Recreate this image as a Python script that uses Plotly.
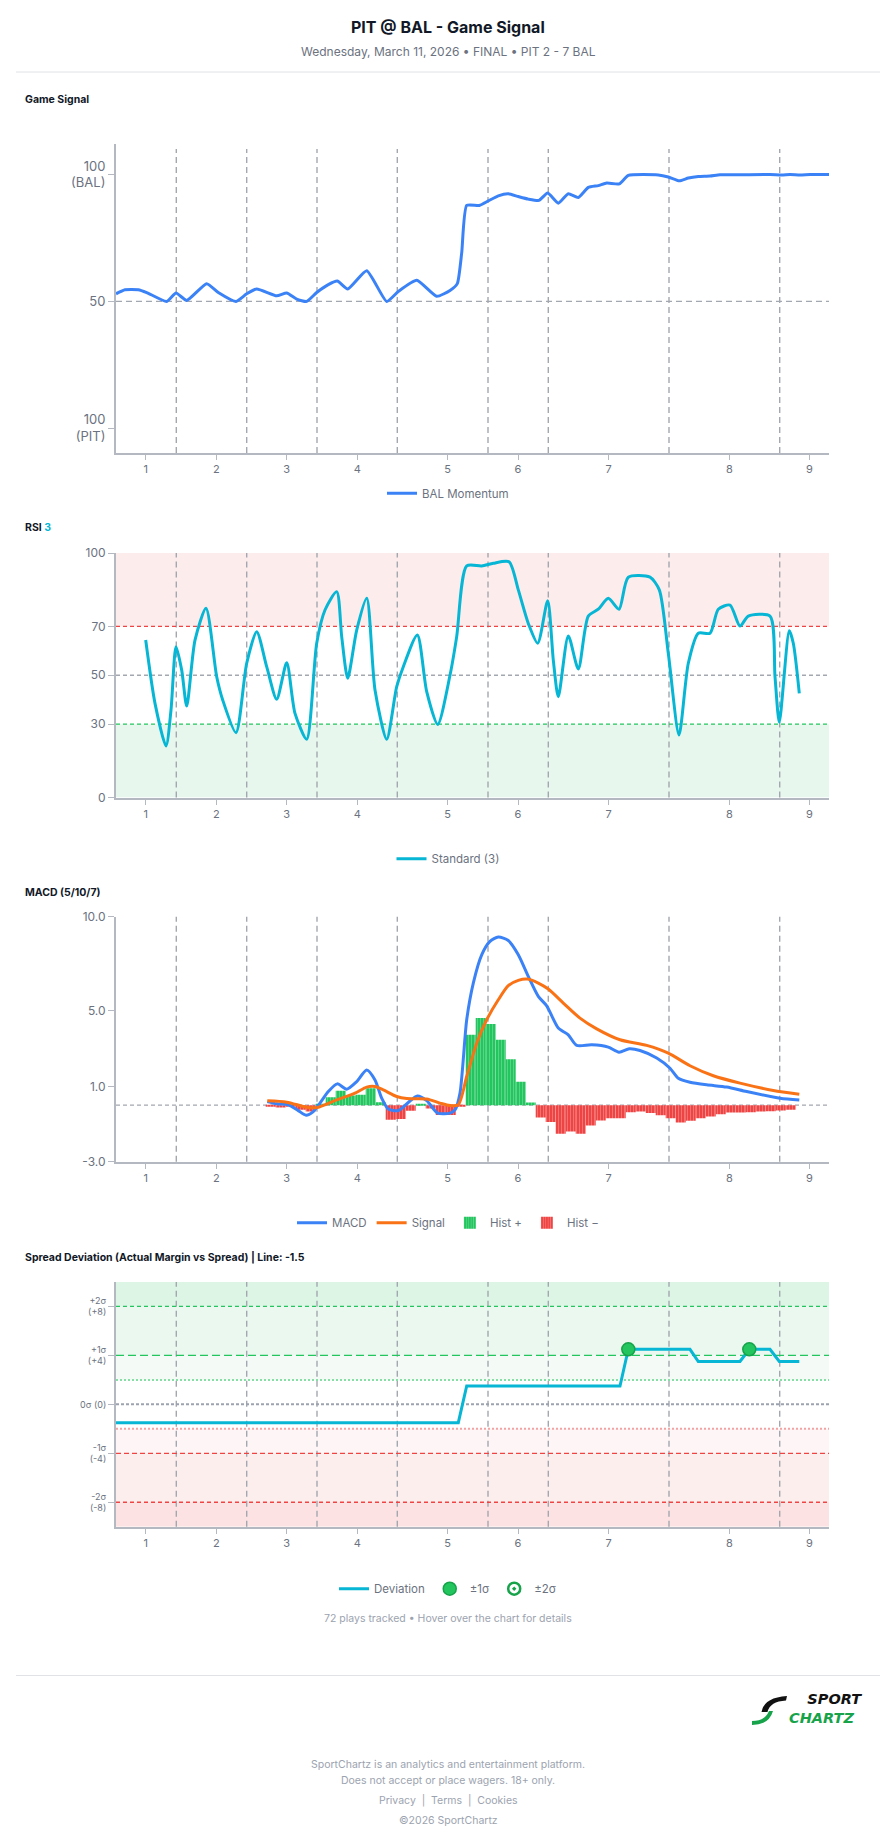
import plotly.graph_objects as go

W, H = 896, 1845
ML, MR = 116, 67
PW = W - ML - MR


def fx(p):
    return (p - ML) / PW


def fy(p):
    return 1 - p / H


FONT = "Inter, 'Noto Sans', sans-serif"
AX = "#b4b8c0"
TICK = "#6b7280"
VLINE = "#a3a7af"

# ---------------- data ----------------
inning_labels = ["1", "2", "3", "4", "5", "6", "7", "8", "9"]
inning_ticks = [2.97, 10.03, 17.07, 24.13, 33.15, 40.2, 49.27, 61.33, 69.33]
inning_breaks = [6.03, 13.07, 20.1, 28.13, 37.2, 43.23, 55.3, 66.37]
x_range = [0, 71.3]

# Game signal (BAL momentum, 100 = BAL, 0 = PIT)
gs_x = [0, 0.9, 2.23, 3.07, 5.07, 6.0, 7.07, 9.07, 10.23, 12.0, 13.07, 14.07, 16.07, 17.07,
        18.07, 19.07, 20.07, 21.23, 22.13, 23.17, 25.07, 27.07, 28.23, 30.07, 32.07, 33.4,
        34.13, 34.57, 35.07, 36.33, 37.23, 38.23, 39.23, 40.23, 41.23, 42.3, 43.17, 44.23,
        45.23, 46.23, 47.23, 48.23, 49.07, 50.33, 51.23, 54.23, 55.23, 56.33, 57.23, 58.23,
        59.4, 60.4, 62.4, 65.4, 66.57, 67.4, 68.4, 69.4, 71.3]
gs_y = [53.0, 54.6, 54.6, 53.5, 50.0, 53.3, 50.4, 57.0, 53.5, 50.0, 53.0, 54.9, 52.2, 53.3,
        50.9, 50.0, 53.5, 56.6, 58.0, 54.9, 62.1, 50.0, 53.9, 58.3, 52.0, 54.3,
        57.0, 69.1, 87.8, 87.8, 89.6, 91.6, 92.4, 91.3, 90.3, 89.8, 92.7, 88.7,
        92.4, 90.9, 94.9, 95.6, 96.6, 96.3, 99.6, 99.8, 99.0, 97.5, 98.6, 99.2,
        99.4, 99.9, 99.9, 100.0, 99.8, 100.0, 99.8, 100.0, 100.0]

# RSI (3)
rsi_x = [2.97, 3.9, 5.0, 5.5, 6.0, 6.57, 7.07, 7.9, 9.0, 10.07, 10.67, 12.0, 13.07, 14.07,
         15.07, 16.07, 17.07, 17.9, 19.07, 20.07, 20.9, 22.07, 22.57, 23.17, 24.07, 25.07,
         25.9, 27.07, 28.07, 28.73, 30.13, 31.07, 32.17, 33.4, 34.07, 35.07, 36.57, 37.73,
         39.3, 40.23, 41.23, 42.17, 43.17, 43.73, 44.23, 45.23, 46.23, 47.23, 48.23, 49.23,
         50.3, 51.23, 53.4, 54.33, 55.23, 56.3, 57.23, 58.23, 59.4, 60.23, 61.4, 62.4,
         63.23, 65.4, 65.9, 66.33, 67.33, 67.73, 68.33]
rsi_y = [64.4, 38.5, 21.1, 35.8, 61.7, 52.1, 37.4, 64.4, 77.4, 49.4, 39.9, 26.5, 54.9, 67.8,
         53.5, 40.2, 55.1, 34.4, 23.8, 63.1, 76.7, 84.2, 65.8, 48.8, 68.5, 81.5,
         44.0, 23.8, 45.3, 53.5, 66.5, 43.3, 29.9, 50.0, 65.8, 94.7, 94.7, 95.8,
         96.4, 84.9, 71.2, 63.1, 80.5, 56.2, 41.2, 66.1, 52.6, 74.2, 77.0, 81.5,
         77.0, 90.1, 90.1, 84.9, 59.0, 25.6, 54.9, 67.2, 67.2, 77.0, 78.7, 70.1,
         74.2, 74.2, 49.4, 30.8, 68.2, 63.1, 42.6]

# MACD (5/10/7)
macd_x = [15.13, 16.07, 17.23, 18.23, 19.0, 19.73, 20.4, 21.23, 22.13, 23.07, 24.07, 25.07,
          25.9, 26.57, 27.23, 28.23, 29.23, 30.13, 31.07, 32.17, 33.4, 33.9, 34.4, 35.07,
          35.73, 36.57, 37.4, 38.23, 39.23, 40.23, 41.23, 42.23, 43.07, 44.23, 45.23, 46.07,
          47.57, 49.23, 50.3, 51.33, 52.4, 54.07, 55.4, 56.23, 57.4, 59.07, 61.07, 63.07,
          66.4, 68.33]
macd_y = [0.19, 0.07, 0.02, -0.29, -0.53, -0.34, 0.11, 0.72, 1.13, 0.85, 1.25, 1.87,
          1.34, 0.37, -0.21, -0.29, 0.14, 0.49, 0.24, -0.42, -0.42, -0.25, 0.64, 4.53,
          6.48, 7.98, 8.69, 8.92, 8.74, 7.98, 6.83, 5.77, 5.27, 4.09, 3.73, 3.17,
          3.20, 3.08, 2.81, 2.99, 2.90, 2.50, 1.96, 1.43, 1.22, 1.08, 0.96, 0.72,
          0.37, 0.28]
signal_x = [15.13, 17.07, 19.07, 20.07, 22.07, 23.9, 25.07, 25.9, 26.73, 28.07, 29.07, 31.07,
            32.4, 33.4, 34.23, 35.07, 36.07, 37.07, 38.23, 39.23, 40.23, 41.13, 42.23, 43.23,
            44.73, 46.4, 48.07, 50.4, 53.07, 55.23, 57.4, 59.73, 62.4, 65.73, 68.33]
signal_y = [0.23, 0.16, -0.11, -0.13, 0.28, 0.64, 0.96, 0.99, 0.81, 0.46, 0.35, 0.33,
            0.11, -0.02, 0.02, 1.52, 3.29, 4.53, 5.59, 6.34, 6.62, 6.69, 6.48, 6.16,
            5.42, 4.62, 4.05, 3.47, 3.17, 2.76, 2.09, 1.56, 1.17, 0.78, 0.58]
hist_start = 15.47
hist_vals = [-0.03, -0.13, -0.08, -0.25, -0.34, 0.03, 0.42, 0.76, 0.51, 0.55, 0.90, 0.16,
             -0.78, -0.74, -0.30, 0.05, -0.18, -0.52, -0.52, -0.05,
             3.73, 4.62, 4.30, 3.47, 2.44, 1.24, 0.14,
             -0.66, -0.90, -1.52, -1.40, -1.52, -1.08, -0.82, -0.69, -0.69, -0.37, -0.33,
             -0.42, -0.53, -0.69, -0.92, -0.83, -0.69, -0.60, -0.48, -0.39, -0.39, -0.37,
             -0.33, -0.32, -0.28, -0.25]

# Spread deviation (actual margin vs spread)
dev_x = [0, 34.23, 35.07, 50.4, 51.23, 57.4, 58.23, 62.4, 63.33, 65.4, 66.33, 68.33]
dev_y = [-1.5, -1.5, 1.5, 1.5, 4.5, 4.5, 3.5, 3.5, 4.5, 4.5, 3.5, 3.5]
sig1_x = [51.23, 63.33]
sig1_y = [4.5, 4.5]

# ---------------- figure ----------------
hist_x = [hist_start + i for i in range(len(hist_vals))]
hist_pos = [v if v >= 0 else None for v in hist_vals]
hist_neg = [v if v < 0 else None for v in hist_vals]

fig = go.Figure()

fig.add_trace(go.Scatter(x=gs_x, y=gs_y, mode="lines", name="BAL Momentum",
                         line=dict(color="#3b82f6", width=3, shape="spline", smoothing=0.5),
                         xaxis="x", yaxis="y", legend="legend", hoverinfo="skip"))

fig.add_trace(go.Scatter(x=rsi_x, y=rsi_y, mode="lines", name="Standard (3)",
                         line=dict(color="#06b6d4", width=3, shape="spline", smoothing=0.7),
                         xaxis="x2", yaxis="y2", legend="legend2", hoverinfo="skip"))

pat = dict(shape="|", fgcolor="rgba(255,255,255,0.55)", size=3, solidity=0.3)
fig.add_trace(go.Bar(x=hist_x, y=hist_pos, width=1.0, name="Hist +",
                     marker=dict(color="#22c55e", line=dict(width=0), pattern=pat),
                     xaxis="x3", yaxis="y3", legend="legend3", legendrank=3, hoverinfo="skip"))
fig.add_trace(go.Bar(x=hist_x, y=hist_neg, width=1.0, name="Hist \u2212",
                     marker=dict(color="#ef4444", line=dict(width=0), pattern=pat),
                     xaxis="x3", yaxis="y3", legend="legend3", legendrank=4, hoverinfo="skip"))
fig.add_trace(go.Scatter(x=macd_x, y=macd_y, mode="lines", name="MACD",
                         line=dict(color="#3b82f6", width=3, shape="spline", smoothing=0.7),
                         xaxis="x3", yaxis="y3", legend="legend3", legendrank=1, hoverinfo="skip"))
fig.add_trace(go.Scatter(x=signal_x, y=signal_y, mode="lines", name="Signal",
                         line=dict(color="#f97316", width=3, shape="spline", smoothing=0.7),
                         xaxis="x3", yaxis="y3", legend="legend3", legendrank=2, hoverinfo="skip"))

fig.add_trace(go.Scatter(x=dev_x, y=dev_y, mode="lines", name="Deviation",
                         line=dict(color="#06b6d4", width=3),
                         xaxis="x4", yaxis="y4", legend="legend4", legendrank=1, hoverinfo="skip"))
fig.add_trace(go.Scatter(x=sig1_x, y=sig1_y, mode="markers", name="\u00b11\u03c3",
                         marker=dict(color="#22c55e", size=13, line=dict(color="#16a34a", width=1.5)),
                         xaxis="x4", yaxis="y4", legend="legend4", legendrank=2, hoverinfo="skip"))
fig.add_trace(go.Scatter(x=[None], y=[None], mode="markers", name="\u00b12\u03c3",
                         marker=dict(color="white", size=12, symbol="circle-dot",
                                     line=dict(color="#16a34a", width=2.5)),
                         xaxis="x4", yaxis="y4", legend="legend4", legendrank=3, hoverinfo="skip"))

# ---------------- axes ----------------
dom1 = [fy(453), fy(144)]
dom2 = [fy(797.5), fy(553)]
dom3 = [fy(1161.7), fy(916.7)]
dom4 = [fy(1526.7), fy(1282)]

xcommon = dict(range=x_range, tickmode="array", tickvals=inning_ticks, ticktext=inning_labels,
               showline=True, linecolor=AX, linewidth=2, ticks="outside", ticklen=5, tickwidth=1,
               tickcolor=AX, tickfont=dict(size=11, color=TICK), showgrid=False, zeroline=False,
               automargin=False, fixedrange=True, domain=[0, 1])
ycommon = dict(showline=True, linecolor=AX, linewidth=2, ticks="outside", ticklen=6, tickwidth=1,
               tickcolor=AX, showgrid=False, zeroline=False, automargin=False, fixedrange=True)

layout_axes = dict(
    xaxis=dict(xcommon, anchor="y"),
    xaxis2=dict(xcommon, anchor="y2"),
    xaxis3=dict(xcommon, anchor="y3"),
    xaxis4=dict(xcommon, anchor="y4"),
    yaxis=dict(ycommon, domain=dom1, range=[-9.7, 112], tickmode="array", tickvals=[0, 50, 100],
               ticktext=["100<br>(PIT)", "50", "100<br>(BAL)"], tickfont=dict(size=13, color=TICK),
               anchor="x"),
    yaxis2=dict(ycommon, domain=dom2, range=[0, 100], tickmode="array", tickvals=[0, 30, 50, 70, 100],
                ticktext=["0", "30", "50", "70", "100"], tickfont=dict(size=12, color=TICK), anchor="x2"),
    yaxis3=dict(ycommon, domain=dom3, range=[-3, 10], tickmode="array", tickvals=[-3, 1, 5, 10],
                ticktext=["-3.0", "1.0", "5.0", "10.0"], tickfont=dict(size=12, color=TICK), anchor="x3"),
    yaxis4=dict(ycommon, domain=dom4, range=[-10, 10], tickmode="array", tickvals=[-8, -4, 0, 4, 8],
                ticktext=["-2\u03c3<br>(-8)", "-1\u03c3<br>(-4)", "0\u03c3 (0)", "+1\u03c3<br>(+4)",
                          "+2\u03c3<br>(+8)"], tickfont=dict(size=9, color=TICK), anchor="x4"),
)

# ---------------- shapes ----------------
shapes = []


def hband(xref, yref, y0, y1, color):
    shapes.append(dict(type="rect", xref=xref + " domain", yref=yref, x0=0, x1=1, y0=y0, y1=y1,
                       fillcolor=color, line=dict(width=0), layer="below"))


def hline(xref, yref, y, color, dash, width=1.3):
    shapes.append(dict(type="line", xref=xref + " domain", yref=yref, x0=0, x1=1, y0=y, y1=y,
                       line=dict(color=color, width=width, dash=dash), layer="below"))


# RSI bands
hband("x2", "y2", 70, 100, "#fdecec")
hband("x2", "y2", 0, 30, "#e8f7ee")
# Spread bands
hband("x4", "y4", 8, 10, "#dcf5e5")
hband("x4", "y4", 4, 8, "#eaf8ef")
hband("x4", "y4", 2, 4, "#f4fbf7")
hband("x4", "y4", -4, -2, "#fef6f6")
hband("x4", "y4", -8, -4, "#fdeeee")
hband("x4", "y4", -10, -8, "#fde2e3")

# inning boundaries
for xr, yr, top in [("x", "y", 0.984), ("x2", "y2", 1), ("x3", "y3", 1), ("x4", "y4", 1)]:
    for b in inning_breaks:
        shapes.append(dict(type="line", xref=xr, yref=yr + " domain", x0=b, x1=b, y0=0, y1=top,
                           line=dict(color=VLINE, width=1.4, dash="6px,4px"), layer="below"))

hline("x", "y", 50, "#a3a7af", "6px,4px", 1.4)
hline("x2", "y2", 70, "#ef4444", "4px,3px", 1.3)
hline("x2", "y2", 50, "#a3a7af", "4px,3px", 1.3)
hline("x2", "y2", 30, "#22c55e", "4px,3px", 1.3)
hline("x3", "y3", 0, "#a3a7af", "4px,3px", 1.1)
hline("x4", "y4", 8, "#22c55e", "4px,3px", 1.3)
hline("x4", "y4", 4, "#22c55e", "8px,4px", 1.3)
hline("x4", "y4", 2, "#86e0a6", "2px,2px", 2)
hline("x4", "y4", 0, "#9ca3af", "3px,2px", 2)
hline("x4", "y4", -2, "#f4a3a3", "2px,2px", 2)
hline("x4", "y4", -4, "#ef4444", "5px,3px", 1.3)
hline("x4", "y4", -8, "#ef4444", "4px,3px", 1.3)

# header / footer separators
for yy in (72, 1675.5):
    shapes.append(dict(type="line", xref="paper", yref="paper", x0=fx(16), x1=fx(880),
                       y0=fy(yy), y1=fy(yy), line=dict(color="#e0e2e6", width=1)))


# logo swooshes
def ppath(cmds):
    out = []
    for c in cmds:
        if isinstance(c, str):
            out.append(c)
        else:
            out.append(f"{fx(c[0]):.5f},{fy(c[1]):.5f}")
    return " ".join(out)


shapes.append(dict(type="path", xref="paper", yref="paper",
                   path=ppath(["M", (761.5, 1712), "Q", (764, 1697.5), (787, 1696), "L", (786, 1700.5),
                               "Q", (770, 1701.5), (767.5, 1712), "Z"]),
                   fillcolor="#111111", line=dict(width=0)))
shapes.append(dict(type="path", xref="paper", yref="paper",
                   path=ppath(["M", (752, 1721), "Q", (765, 1721), (769, 1711), "L", (773, 1711),
                               "Q", (769, 1725), (752, 1725), "Z"]),
                   fillcolor="#16a34a", line=dict(width=0)))

# ---------------- annotations ----------------
ann = []


def text(x, y, s, size, color, xanchor="center", family=FONT, align="center"):
    ann.append(dict(x=fx(x), y=fy(y), xref="paper", yref="paper", text=s, showarrow=False,
                    xanchor=xanchor, yanchor="middle", align=align,
                    font=dict(size=size, color=color, family=family)))


text(448, 27, "<b>PIT @ BAL - Game Signal</b>", 16, "#111827")
text(448, 52, "Wednesday, March 11, 2026 \u2022 FINAL \u2022 PIT 2 - 7 BAL", 12, "#6b7280")
text(23, 99, "<b>Game Signal</b>", 10.5, "#111827", "left")
text(23, 527.5, "<b>RSI <span style='color:#06b6d4'>3</span></b>", 10.5, "#111827", "left")
text(23, 892.3, "<b>MACD (5/10/7)</b>", 10.5, "#111827", "left")
text(23, 1257.3, "<b>Spread Deviation (Actual Margin vs Spread) | Line: -1.5</b>", 10.5, "#111827", "left")
text(448, 1618.7, "72 plays tracked \u2022 Hover over the chart for details", 10.5, "#9ca3af")
# logo wordmark (two lines in one text block)
ann.append(dict(x=fx(864), y=fy(1708.5), xref="paper", yref="paper", showarrow=False,
                xanchor="right", yanchor="middle", align="right",
                text="<b><i>SPORT</i></b><br><span style='color:#16a34a'><b><i>CHARTZ</i></b></span>\u2002",
                font=dict(size=14.5, color="#111111", family="'DejaVu Sans', sans-serif")))
text(448, 1764, "SportChartz is an analytics and entertainment platform.", 10.5, "#9ca3af")
text(448, 1780, "Does not accept or place wagers. 18+ only.", 10.5, "#9ca3af")
text(448, 1800, "Privacy  |  Terms  |  Cookies", 10.5, "#9ca3af")
text(448, 1820, "\u00a92026 SportChartz", 10.5, "#9ca3af")


def leg(y):
    return dict(x=fx(448), y=fy(y), xanchor="center", yanchor="middle", orientation="h",
                font=dict(size=11.5, color=TICK, family=FONT), bgcolor="rgba(0,0,0,0)",
                itemclick=False, itemdoubleclick=False, tracegroupgap=0)


fig.update_layout(
    width=W, height=H, autosize=False,
    margin=dict(l=ML, r=MR, t=0, b=0, pad=0),
    paper_bgcolor="white", plot_bgcolor="white",
    font=dict(family=FONT, color=TICK),
    showlegend=True,
    barmode="overlay",
    legend=leg(493.3), legend2=leg(858.7), legend3=leg(1222.7), legend4=leg(1588.7),
    shapes=shapes, annotations=ann,
    hovermode=False,
    **layout_axes,
)

fig.write_html("out.html", config={"displayModeBar": False})
